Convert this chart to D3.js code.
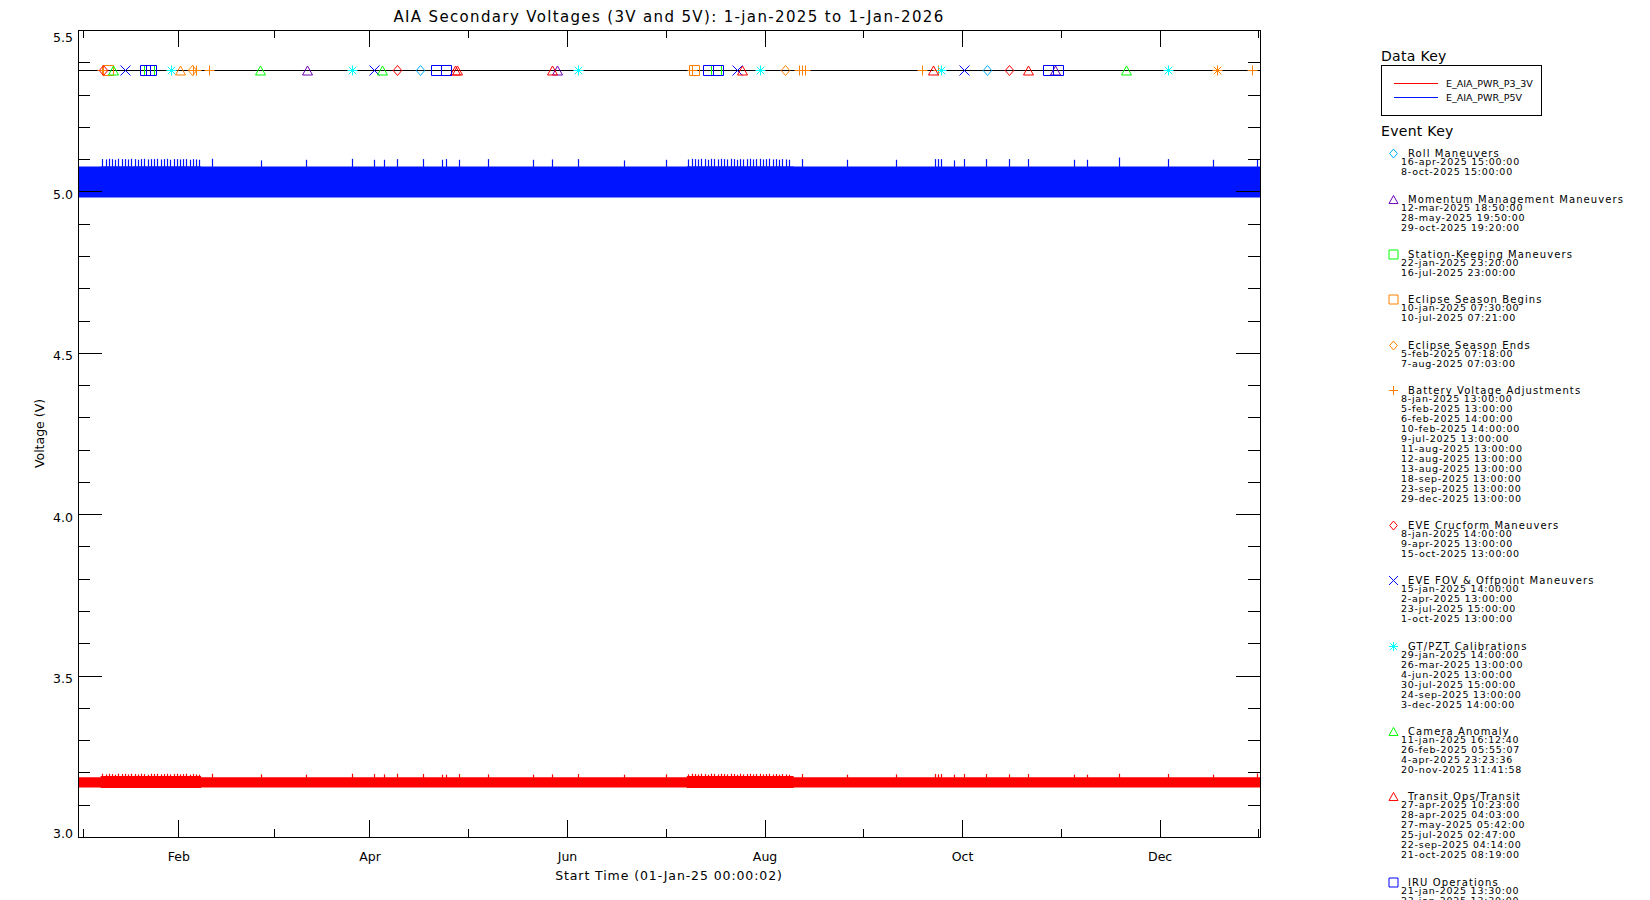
<!DOCTYPE html>
<html>
<head>
<meta charset="utf-8">
<title>AIA Secondary Voltages</title>
<script src="https://cdn.jsdelivr.net/npm/d3@7"></script>
<style>
body { margin: 0; background: #fff; }
svg { display: block; font-family: "DejaVu Sans", sans-serif; }
</style>
</head>
<body>
<svg width="1650" height="900"></svg>
<script>
// chart texts
const titleText = "AIA Secondary Voltages (3V and 5V): 1-jan-2025 to 1-Jan-2026";
const xTitle = "Start Time (01-Jan-25 00:00:02)";
const yTitle = "Voltage (V)";

// axes
const timeDomain = ["2025-01-01T00:00:02", "2026-01-01"];
const voltDomain = [3.0, 5.5];
const yMajorTicks = [3.0, 3.5, 4.0, 4.5, 5.0, 5.5];
const xMajorTicks = ["2025-02-01", "2025-04-01", "2025-06-01", "2025-08-01", "2025-10-01", "2025-12-01"];
const eventLevel = 5.375;

// data series (band envelope, step changes at eclipse seasons)
const seriesNames = ["E_AIA_PWR_P3_3V", "E_AIA_PWR_P5V"];
const envelopeTimes = ["2025-01-01T00:00:02", "2025-01-08", "2025-02-08", "2025-07-08", "2025-08-10", "2026-01-01"];
const p3Upper = [3.185, 3.189, 3.185, 3.189, 3.185, 3.185];
const p3Lower = [3.153, 3.152, 3.153, 3.152, 3.153, 3.153];
const p5Upper = [5.077, 5.078, 5.077, 5.078, 5.077, 5.077];
const p5Lower = [4.981, 4.981, 4.981, 4.981, 4.981, 4.981];

// spikes above the bands: time, P3_3V top, P5V top
const spikeTimes = [
  "2025-01-08T12", "2025-01-09T12", "2025-01-10T12", "2025-01-11T12", "2025-01-12T12", "2025-01-13T12",
  "2025-01-14T12", "2025-01-15T12", "2025-01-16T12", "2025-01-17T12", "2025-01-18T12", "2025-01-19T12",
  "2025-01-20T12", "2025-01-21T12", "2025-01-22T12", "2025-01-23T12", "2025-01-24T12", "2025-01-25T12",
  "2025-01-26T12", "2025-01-27T12", "2025-01-28T12", "2025-01-29T12", "2025-01-30T12", "2025-01-31T12",
  "2025-02-01T12", "2025-02-02T12", "2025-02-03T12", "2025-02-04T12", "2025-02-05T12", "2025-02-06T12",
  "2025-02-07T12", "2025-02-11T12", "2025-02-26T12", "2025-03-12T12", "2025-03-26T12", "2025-04-02T12",
  "2025-04-05T12", "2025-04-09T12", "2025-04-17T12", "2025-04-23T12", "2025-04-24T12", "2025-04-28T12",
  "2025-05-07T12", "2025-05-21T12", "2025-05-27T12", "2025-06-04T12", "2025-06-18T12", "2025-07-01T12",
  "2025-07-08T12", "2025-07-09T12", "2025-07-10T12", "2025-07-11T12", "2025-07-12T12", "2025-07-13T12",
  "2025-07-14T12", "2025-07-15T12", "2025-07-16T12", "2025-07-17T12", "2025-07-18T12", "2025-07-19T12",
  "2025-07-20T12", "2025-07-21T12", "2025-07-22T12", "2025-07-23T12", "2025-07-24T12", "2025-07-25T12",
  "2025-07-26T12", "2025-07-27T12", "2025-07-28T12", "2025-07-29T12", "2025-07-30T12", "2025-07-31T12",
  "2025-08-01T12", "2025-08-02T12", "2025-08-03T12", "2025-08-04T12", "2025-08-05T12", "2025-08-06T12",
  "2025-08-07T12", "2025-08-08T12", "2025-08-12T12", "2025-08-26T12", "2025-09-10T12", "2025-09-22T12",
  "2025-09-23T12", "2025-09-24T12", "2025-09-28T12", "2025-10-01T12", "2025-10-08T12", "2025-10-15T12",
  "2025-10-21T12", "2025-11-04T12", "2025-11-08T12", "2025-11-18T12", "2025-12-03T12", "2025-12-17T12",
  "2025-12-31T00"
];
const p3SpikeTops = [
  3.196, 3.194, 3.196, 3.195, 3.193, 3.196, 3.195, 3.196, 3.194, 3.196, 3.195, 3.194,
  3.196, 3.195, 3.193, 3.196, 3.195, 3.196, 3.194, 3.195, 3.196, 3.194, 3.195, 3.196,
  3.194, 3.195, 3.196, 3.193, 3.195, 3.194, 3.193, 3.196, 3.194, 3.193, 3.196, 3.195,
  3.194, 3.196, 3.195, 3.193, 3.193, 3.195, 3.194, 3.193, 3.194, 3.195, 3.193, 3.194,
  3.194, 3.196, 3.195, 3.194, 3.196, 3.195, 3.193, 3.196, 3.195, 3.194, 3.196, 3.195,
  3.194, 3.196, 3.195, 3.193, 3.196, 3.194, 3.195, 3.196, 3.194, 3.195, 3.196, 3.194,
  3.195, 3.196, 3.194, 3.195, 3.193, 3.195, 3.194, 3.193, 3.195, 3.193, 3.194, 3.195,
  3.194, 3.195, 3.193, 3.195, 3.195, 3.194, 3.195, 3.193, 3.193, 3.196, 3.195, 3.193,
  3.197
];
const p5SpikeTops = [
  5.100, 5.099, 5.101, 5.100, 5.098, 5.101, 5.100, 5.100, 5.099, 5.101, 5.100, 5.098,
  5.100, 5.101, 5.099, 5.100, 5.100, 5.101, 5.099, 5.100, 5.101, 5.098, 5.100, 5.100,
  5.099, 5.100, 5.100, 5.098, 5.100, 5.099, 5.098, 5.101, 5.096, 5.098, 5.101, 5.098,
  5.098, 5.100, 5.100, 5.098, 5.100, 5.098, 5.100, 5.098, 5.099, 5.100, 5.096, 5.098,
  5.099, 5.101, 5.100, 5.099, 5.101, 5.100, 5.098, 5.101, 5.100, 5.099, 5.101, 5.100,
  5.099, 5.101, 5.100, 5.098, 5.100, 5.099, 5.100, 5.101, 5.099, 5.100, 5.101, 5.099,
  5.100, 5.101, 5.099, 5.100, 5.098, 5.100, 5.099, 5.098, 5.100, 5.098, 5.098, 5.100,
  5.100, 5.100, 5.096, 5.100, 5.100, 5.100, 5.100, 5.098, 5.098, 5.105, 5.100, 5.098,
  5.100
];

// events (legend order)
const eventNames = [
  "Roll Maneuvers", "Momentum Management Maneuvers", "Station-Keeping Maneuvers",
  "Eclipse Season Begins", "Eclipse Season Ends", "Battery Voltage Adjustments",
  "EVE Crucform Maneuvers", "EVE FOV & Offpoint Maneuvers", "GT/PZT Calibrations",
  "Camera Anomaly", "Transit Ops/Transit", "IRU Operations"
];
const eventSymbols = ["diamond", "triangle", "square", "square", "diamond", "plus",
  "diamond", "x", "asterisk", "triangle", "triangle", "square"];
const eventColors = ["#00b0ff", "#6a00b4", "#00ff00", "#ff8000", "#ff8000", "#ff8000",
  "#ff0000", "#0000ff", "#00ffff", "#00ff00", "#ff0000", "#0000ff"];
const eventTimes = [
  ["2025-04-16T15:00:00", "2025-10-08T15:00:00"],
  ["2025-03-12T18:50:00", "2025-05-28T19:50:00", "2025-10-29T19:20:00"],
  ["2025-01-22T23:20:00", "2025-07-16T23:00:00"],
  ["2025-01-10T07:30:00", "2025-07-10T07:21:00"],
  ["2025-02-05T07:18:00", "2025-08-07T07:03:00"],
  ["2025-01-08T13:00:00", "2025-02-05T13:00:00", "2025-02-06T14:00:00", "2025-02-10T14:00:00",
   "2025-07-09T13:00:00", "2025-08-11T13:00:00", "2025-08-12T13:00:00", "2025-08-13T13:00:00",
   "2025-09-18T13:00:00", "2025-09-23T13:00:00", "2025-12-29T13:00:00"],
  ["2025-01-08T14:00:00", "2025-04-09T13:00:00", "2025-10-15T13:00:00"],
  ["2025-01-15T14:00:00", "2025-04-02T13:00:00", "2025-07-23T15:00:00", "2025-10-01T13:00:00"],
  ["2025-01-29T14:00:00", "2025-03-26T13:00:00", "2025-06-04T13:00:00", "2025-07-30T15:00:00",
   "2025-09-24T13:00:00", "2025-12-03T14:00:00"],
  ["2025-01-11T16:12:40", "2025-02-26T05:55:07", "2025-04-04T23:23:36", "2025-11-20T11:41:58"],
  ["2025-04-27T10:23:00", "2025-04-28T04:03:00", "2025-05-27T05:42:00", "2025-07-25T02:47:00",
   "2025-09-22T04:14:00", "2025-10-21T08:19:00"],
  ["2025-01-21T13:30:00", "2025-01-23T13:30:00", "2025-04-21T13:30:00", "2025-04-24T13:30:00",
   "2025-07-14T13:30:00", "2025-07-17T13:30:00", "2025-10-27T13:30:00", "2025-10-30T13:30:00"]
];
// marks whose key entries fall below the bottom of the page
const unlistedSymbols = ["triangle", "asterisk"];
const unlistedColors = ["#ff8000", "#ff8000"];
const unlistedTimes = ["2025-02-01T13:00:00", "2025-12-18T17:00:00"];

const parseT = s => new Date(s.length === 10 ? s + "T00:00:00Z" : s.length === 13 ? s + ":00:00Z" : s + "Z");

const svg = d3.select("svg");
const plotL = 78, plotR = 1260, plotT = 30, plotB = 837;

const x = d3.scaleUtc().domain(timeDomain.map(parseT)).range([plotL, plotR]);
const y = d3.scaleLinear().domain(voltDomain).range([plotB, plotT]);

// title and axis titles
svg.append("text")
    .attr("x", (plotL + plotR) / 2).attr("y", 22)
    .attr("text-anchor", "middle").attr("font-size", 15).attr("letter-spacing", 1.35)
    .text(titleText);
svg.append("text")
    .attr("x", (plotL + plotR) / 2).attr("y", 880)
    .attr("text-anchor", "middle").attr("font-size", 12.5).attr("letter-spacing", 0.9)
    .text(xTitle);
svg.append("text")
    .attr("transform", "translate(39," + ((plotT + plotB) / 2) + ") rotate(-90)")
    .attr("text-anchor", "middle").attr("dominant-baseline", "central").attr("font-size", 12.5)
    .text(yTitle);

// traces
const bands = [
    {color: "#ff0000", hi: p3Upper, lo: p3Lower, spikes: p3SpikeTops},
    {color: "#0014ff", hi: p5Upper, lo: p5Lower, spikes: p5SpikeTops}
];
const area = d3.area()
    .x(d => x(d.t))
    .y0(d => y(d.lo))
    .y1(d => y(d.hi))
    .curve(d3.curveStepAfter);

const traces = svg.append("g");
bands.forEach(b => {
    const pts = envelopeTimes.map((t, i) => ({t: parseT(t), hi: b.hi[i], lo: b.lo[i]}));
    traces.append("path").datum(pts).attr("d", area).attr("fill", b.color);
    traces.append("g").selectAll("line")
        .data(spikeTimes.map((t, i) => ({t: parseT(t), v: b.spikes[i]})))
        .join("line")
        .attr("x1", d => Math.round(x(d.t)) + 0.5)
        .attr("x2", d => Math.round(x(d.t)) + 0.5)
        .attr("y1", d => y(b.hi[0]) + 2)
        .attr("y2", d => y(d.v))
        .attr("stroke", b.color)
        .attr("stroke-width", 1.2);
});

// axes
const yMinorTicks = d3.range(30, 56).map(v => v / 10).filter(v => !yMajorTicks.includes(v));
const xMajor = xMajorTicks.map(parseT);
const xMinor = [];
xMajor.forEach((d, i) => {
    const prev = i > 0 ? xMajor[i - 1] : new Date(2 * d - xMajor[1]);
    xMinor.push(new Date((+prev + +d) / 2));
});
xMinor.push(new Date(+xMajor[xMajor.length - 1] + (xMajor[xMajor.length - 1] - xMajor[xMajor.length - 2]) / 2));

const axes = svg.append("g").attr("shape-rendering", "crispEdges");
const addAxis = (axis, tx, ty) => {
    const g = axes.append("g").attr("transform", "translate(" + tx + "," + ty + ")").call(axis);
    g.select(".domain").remove();
    g.selectAll("line").attr("stroke", "#000");
    return g;
};

const yLabels = addAxis(d3.axisLeft(y).tickValues(yMajorTicks).tickSize(-24).tickPadding(5)
    .tickFormat(d3.format(".1f")), plotL, 0);
yLabels.attr("font-family", null).attr("font-size", null);
yLabels.selectAll("text")
    .attr("font-size", 12.5).attr("fill", "#000").attr("dy", null)
    .attr("y", d => Math.min(Math.max(7, plotT + 11.7 - y(d)), plotB - y(d) + 0.3));
addAxis(d3.axisLeft(y).tickValues(yMinorTicks).tickSize(-12).tickFormat(""), plotL, 0);
addAxis(d3.axisRight(y).tickValues(yMajorTicks).tickSize(-24).tickFormat(""), plotR, 0);
addAxis(d3.axisRight(y).tickValues(yMinorTicks).tickSize(-12).tickFormat(""), plotR, 0);

const xLabels = addAxis(d3.axisBottom(x).tickValues(xMajor).tickSize(-17)
    .tickFormat(d3.utcFormat("%b")), 0, plotB);
xLabels.attr("font-family", null).attr("font-size", null);
xLabels.selectAll("text")
    .attr("font-size", 12.5).attr("fill", "#000").attr("dy", null)
    .attr("y", 24);
addAxis(d3.axisBottom(x).tickValues(xMinor).tickSize(-8).tickFormat(""), 0, plotB);
addAxis(d3.axisTop(x).tickValues(xMajor).tickSize(-17).tickFormat(""), 0, plotT);
addAxis(d3.axisTop(x).tickValues(xMinor).tickSize(-8).tickFormat(""), 0, plotT);

axes.append("rect")
    .attr("x", plotL + 0.5).attr("y", plotT + 0.5)
    .attr("width", plotR - plotL).attr("height", plotB - plotT)
    .attr("fill", "none").attr("stroke", "#000");

// event marks
const symbolPath = (kind, s) => {
    const plus = `M${-s},0H${s}M0,${-s}V${s}`;
    const cross = `M${-s},${-s}L${s},${s}M${-s},${s}L${s},${-s}`;
    switch (kind) {
        case "diamond": return `M0,${-s}L${s * 0.85},0L0,${s}L${-s * 0.85},0Z`;
        case "triangle": return `M${-s},${s * 0.9}L${s},${s * 0.9}L0,${-s * 0.9}Z`;
        case "square": return `M${-s},${-s}H${s}V${s}H${-s}Z`;
        case "plus": return plus;
        case "x": return cross;
        default: return plus + `M${-s * 0.75},${-s * 0.75}L${s * 0.75},${s * 0.75}M${-s * 0.75},${s * 0.75}L${s * 0.75},${-s * 0.75}`;
    }
};

const ye = Math.round(y(eventLevel)) + 0.5;
svg.append("line")
    .attr("x1", plotL).attr("x2", plotR).attr("y1", ye).attr("y2", ye)
    .attr("stroke", "#000").attr("shape-rendering", "crispEdges");

const marks = [];
eventTimes.forEach((list, i) => list.forEach(t =>
    marks.push({t: parseT(t), sym: eventSymbols[i], color: eventColors[i]})));
unlistedTimes.forEach((t, i) =>
    marks.push({t: parseT(t), sym: unlistedSymbols[i], color: unlistedColors[i]}));

svg.append("g").selectAll("path")
    .data(marks)
    .join("path")
    .attr("transform", d => "translate(" + (Math.round(x(d.t)) + 0.5) + "," + ye + ")")
    .attr("d", d => symbolPath(d.sym, 5))
    .attr("fill", "none")
    .attr("stroke", d => d.color);

// keys
const key = svg.append("g");
key.append("text").attr("x", 1381).attr("y", 61).attr("font-size", 14).attr("letter-spacing", 0.3).text("Data Key");
key.append("rect")
    .attr("x", 1381.5).attr("y", 65.5).attr("width", 160).attr("height", 50)
    .attr("fill", "none").attr("stroke", "#000");
seriesNames.forEach((name, i) => {
    const ly = 83.5 + 14 * i;
    key.append("line").attr("x1", 1394).attr("x2", 1438).attr("y1", ly).attr("y2", ly)
        .attr("stroke", bands[i].color);
    key.append("text").attr("x", 1446).attr("y", ly + 3.5).attr("font-size", 9.5).text(name);
});

key.append("text").attr("x", 1381).attr("y", 136).attr("font-size", 14).attr("letter-spacing", 0.3).text("Event Key");
const fmt = d3.utcFormat("%-d-%b-%Y %H:%M:%S");
let ty = 157.3;
eventNames.forEach((name, i) => {
    key.append("path")
        .attr("transform", "translate(1393.5," + (Math.round(ty - 4) + 0.5) + ")")
        .attr("d", symbolPath(eventSymbols[i], 4.5))
        .attr("fill", "none").attr("stroke", eventColors[i]);
    key.append("text").attr("x", 1408).attr("y", ty)
        .attr("font-size", 10).attr("letter-spacing", 1.1).text(name);
    eventTimes[i].forEach((t, k) => {
        key.append("text").attr("x", 1401).attr("y", ty + 8 + 10 * k)
            .attr("font-size", 9.5).attr("letter-spacing", 0.75).text(fmt(parseT(t)).toLowerCase());
    });
    ty += 25.3 + 10 * eventTimes[i].length;
});
</script>
</body>
</html>
